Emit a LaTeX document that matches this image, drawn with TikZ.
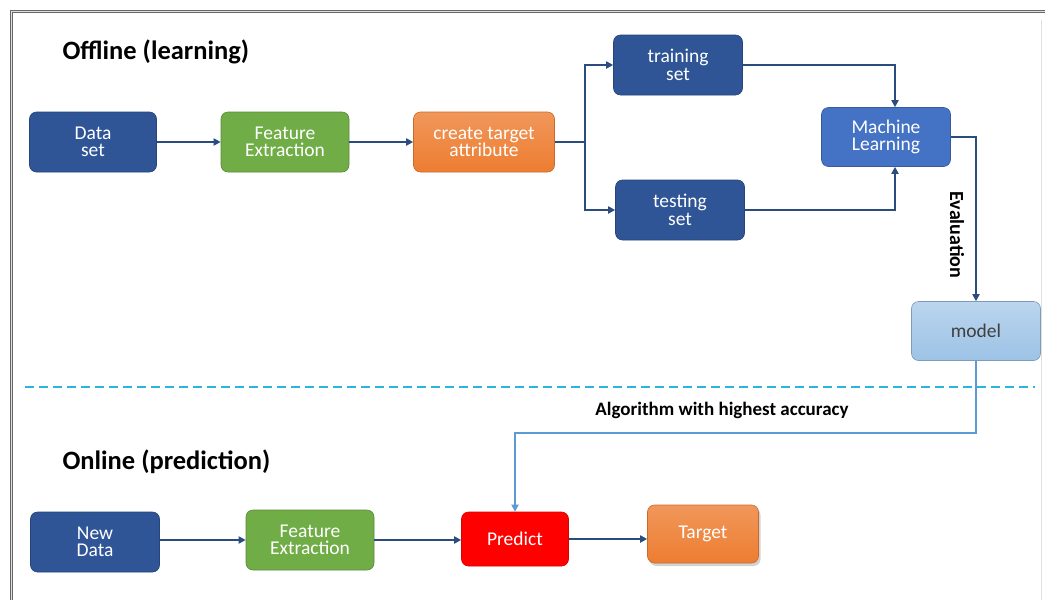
\documentclass[tikz,border=0pt]{standalone}
\usepackage{fontspec}
\setmainfont{Carlito}
\usetikzlibrary{arrows.meta,shadows}
\definecolor{dblue}{HTML}{2F5597}
\definecolor{mblue}{HTML}{4472C4}
\definecolor{lblue}{HTML}{9DC3E6}
\definecolor{fgreen}{HTML}{70AD47}
\definecolor{forange}{HTML}{ED7D31}
\definecolor{arrowc}{HTML}{2B4C7E}
\definecolor{linkc}{HTML}{5B9BD5}
\definecolor{dashc}{HTML}{2BB4DD}
\begin{document}
\begin{tikzpicture}[x=1pt,y=-1pt,
  box/.style={rounded corners=7pt, minimum height=60pt, align=center,
    text=white, font=\fontsize{19.5}{17.5}\selectfont, inner sep=2pt},
  bluebox/.style={box, fill=dblue, draw=dblue!80!black, line width=0.6pt},
  greenbox/.style={box, fill=fgreen, draw=fgreen!80!black, line width=0.6pt},
  orangebox/.style={box, top color=forange!80!white, bottom color=forange, draw=forange!85!black, line width=0.6pt},
  title/.style={font=\bfseries\fontsize{26.5}{28}\selectfont, anchor=west},
  arr/.style={draw=arrowc, line width=2pt, -{Triangle[length=7pt,width=7pt]}},
  lin/.style={draw=arrowc, line width=2pt},
  arr2/.style={draw=linkc, line width=2pt, -{Triangle[length=7pt,width=7pt]}},
  lbl/.style={font=\bfseries\fontsize{19}{20}\selectfont}
]
\useasboundingbox (0,0) rectangle (1045,600);
\fill[white] (0,0) rectangle (1045,600);
% frame
\draw[draw=gray!80!black, double=gray!25, double distance=1.6pt, line width=1.1pt] (11.5,600) -- (11.5,11.5) -- (1045,11.5);
\draw[gray!25, line width=0.8pt] (1041,20) -- (1041,600);

% titles
\node[title] (t1) at (59,52) {Offline (learning)};
\node[title] (t2) at (59,462) {Online (prediction)};

% offline nodes
\node[bluebox, minimum width=127pt] (ds) at (93,142) {Data\\set};
\node[greenbox, minimum width=128pt] (fe) at (285,142) {Feature\\Extraction};
\node[orangebox, minimum width=141pt] (cta) at (484,142) {create target\\attribute};
\node[bluebox, minimum width=129pt] (train) at (678,65) {training\\set};
\node[bluebox, minimum width=129pt] (test) at (680,210) {testing\\set};
\node[box, fill=mblue, draw=mblue!80!black, line width=0.6pt, minimum width=129pt, minimum height=59pt] (ml) at (886,137) {Machine\\Learning};
\node[box, top color=lblue!70!white, bottom color=lblue, draw=lblue!80!black, line width=0.6pt, text=black!75, minimum width=129pt, minimum height=59pt] (model) at (976,331) {model};

% online nodes
\node[bluebox, minimum width=129pt] (nd) at (95,542) {New\\Data};
\node[greenbox, minimum width=128pt] (fe2) at (310,540) {Feature\\Extraction};
\node[box, fill=red, draw=red!85!black, line width=0.6pt, minimum width=107pt, minimum height=54pt] (pred) at (515,539) {Predict};
\node[orangebox, drop shadow={shadow xshift=2pt, shadow yshift=-3pt, opacity=0.35}, minimum width=111pt, minimum height=58pt] (tgt) at (703,534) {Target};

% dashed separator
\coordinate (dl) at (25,387);
\coordinate (dr) at (1035,387);
\draw[dashc, line width=1.6pt, dash pattern=on 9pt off 5pt] (dl) -- (dr);

% offline connectors
\draw[arr] (ds) -- (fe);
\draw[arr] (fe) -- (cta);
\coordinate (split) at (585,142);
\draw[lin] (cta.east) -- (split);
\draw[arr] (split) |- (train.west);
\draw[arr] (split) |- (test.west);
\draw[arr] (train.east) -| ([xshift=9pt]ml.north);
\draw[arr] (test.east) -| ([xshift=9pt]ml.south);
\draw[arr] (ml.east) -| (model.north);
\node[lbl, font=\bfseries\fontsize{20}{20}\selectfont, rotate=-90] (ev) at (957,235) {Evaluation};

% link to online
\coordinate (bend) at (976,433);
\draw[arr2] (model.south) -- (bend) -| (pred.north);
\node[lbl] (alg) at (722,410) {Algorithm with highest accuracy};

% online connectors
\draw[arr] (nd.east |- fe2) -- (fe2);
\draw[arr] (fe2) -- (pred.west |- fe2);
\draw[arr] (pred) -- (tgt.west |- pred);
\end{tikzpicture}
\end{document}
